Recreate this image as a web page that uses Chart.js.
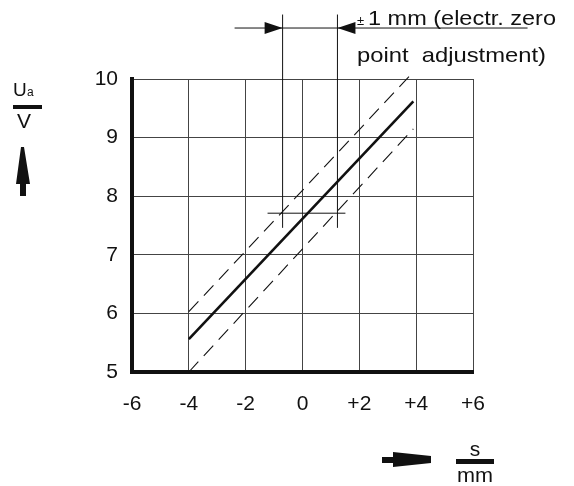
<!DOCTYPE html>
<html>
<head>
<meta charset="utf-8">
<script src="https://cdn.jsdelivr.net/npm/chart.js@4/dist/chart.umd.min.js"></script>
<style>
  html, body { margin: 0; padding: 0; background: #fff; }
</style>
</head>
<body>
<canvas id="myChart" width="574" height="486"></canvas>
<script>
// values (s in mm, Ua in V)
var sTicks = [-6, -4, -2, 0, 2, 4, 6];
var uaTicks = [5, 6, 7, 8, 9, 10];

var sRange = [-4, 3.9];
var uaNominal = [5.56, 9.62];
var uaUpper = [6.03, 10.12];
var uaLower = [5.0, 9.15];

var adjS = [-0.7, 1.23];          // vertical marks of the +-1 mm band
var adjUa = [7.46, 11.1];
var refS = [-1.23, 1.51];         // short horizontal reference line
var refUa = [7.71, 7.71];
var arrowS = [-2.39, 7.92];       // dimension line at the top
var arrowUa = [10.87, 10.87];

var FONT = "'Liberation Sans', Arial, sans-serif";

function pts(xs, ys) {
    var out = [];
    for (var i = 0; i < xs.length; i++) out.push({ x: xs[i], y: ys[i] });
    return out;
}

function lineSet(data, width, dash) {
    return {
        data: data,
        showLine: true,
        borderColor: "#111",
        borderWidth: width,
        borderDash: dash || [],
        pointRadius: 0,
        clip: false,
    };
}

var datasets = [
    lineSet(pts(sRange, uaNominal), 2.6),
    lineSet(pts(sRange, uaUpper), 1.1, [14, 8]),
    lineSet(pts(sRange, uaLower), 1.1, [14, 8]),
    lineSet(pts([adjS[0], adjS[0]], adjUa), 1),
    lineSet(pts([adjS[1], adjS[1]], adjUa), 1),
    lineSet(pts(refS, refUa), 1),
    lineSet(pts(arrowS, arrowUa), 1),
];

// text stretched to the width it has in the picture (left aligned)
function wideText(c, txt, x, y, width) {
    c.save();
    c.textAlign = "left";
    var w = c.measureText(txt).width;
    c.translate(x, y);
    c.scale(width / w, 1);
    c.fillText(txt, 0, 0);
    c.restore();
}

// arrowheads, unit labels and the note text
var extras = {
    id: "extras",
    afterDatasetsDraw: function (chart) {
        var c = chart.ctx;
        var xs = chart.scales.x, ys = chart.scales.y;
        var ay = ys.getPixelForValue(arrowUa[0]);
        var t1 = xs.getPixelForValue(adjS[0]);
        var t2 = xs.getPixelForValue(adjS[1]);
        c.save();
        c.fillStyle = "#111";
        // dimension arrowheads
        c.beginPath();
        c.moveTo(t1, ay); c.lineTo(t1 - 18, ay - 6); c.lineTo(t1 - 18, ay + 6); c.closePath();
        c.fill();
        c.beginPath();
        c.moveTo(t2, ay); c.lineTo(t2 + 18, ay - 6); c.lineTo(t2 + 18, ay + 6); c.closePath();
        c.fill();

        // note text
        c.textBaseline = "alphabetic";
        c.textAlign = "left";
        c.font = "13px " + FONT;
        c.fillText("±", 357, 25);
        c.font = "21px " + FONT;
        wideText(c, "1 mm (electr. zero", 368, 25, 188);
        wideText(c, "point  adjustment)", 357, 62, 189);

        // y unit: Ua / V with up arrow
        c.font = "19px " + FONT;
        c.fillText("U", 13, 96);
        c.font = "12px " + FONT;
        c.fillText("a", 27, 96);
        c.fillRect(13, 105, 29, 4);
        c.font = "21px " + FONT;
        c.textAlign = "center";
        c.fillText("V", 24, 128);
        c.beginPath();
        c.moveTo(21, 147); c.lineTo(24, 147);
        c.lineTo(30, 184); c.lineTo(26, 184); c.lineTo(26, 196);
        c.lineTo(20, 196); c.lineTo(20, 184); c.lineTo(16, 184);
        c.closePath();
        c.fill();

        // x unit: s / mm with right arrow
        c.fillText("s", 475, 456);
        c.fillRect(456, 459, 38, 5);
        wideText(c, "mm", 457, 482, 36);
        c.beginPath();
        c.moveTo(382, 457); c.lineTo(393, 457); c.lineTo(393, 452);
        c.lineTo(431, 456); c.lineTo(431, 463); c.lineTo(393, 467);
        c.lineTo(393, 463); c.lineTo(382, 463);
        c.closePath();
        c.fill();
        c.restore();
    },
};

var canvas = document.getElementById("myChart");
new Chart(canvas.getContext("2d"), {
    type: "scatter",
    data: { datasets: datasets },
    options: {
        responsive: false,
        animation: false,
        events: [],
        layout: { padding: { left: 0, top: 79, right: 101, bottom: 0 } },
        plugins: { legend: { display: false }, tooltip: { enabled: false } },
        scales: {
            x: {
                type: "linear",
                min: sTicks[0],
                max: sTicks[sTicks.length - 1],
                afterBuildTicks: function (s) { s.ticks = sTicks.map(function (v) { return { value: v }; }); },
                afterFit: function (s) { s.height = 114; },
                ticks: {
                    padding: 20,
                    color: "#111",
                    font: { family: FONT, size: 21 },
                    callback: function (v) { return v > 0 ? "+" + v : String(v); },
                },
                grid: { color: "#444", lineWidth: 1, drawTicks: false },
                border: { color: "#111", width: 4 },
            },
            y: {
                type: "linear",
                min: uaTicks[0],
                max: uaTicks[uaTicks.length - 1],
                afterBuildTicks: function (s) { s.ticks = uaTicks.map(function (v) { return { value: v }; }); },
                afterFit: function (s) { s.width = 132; },
                ticks: {
                    padding: 14,
                    color: "#111",
                    font: { family: FONT, size: 21 },
                },
                grid: { color: "#444", lineWidth: 1, drawTicks: false },
                border: { color: "#111", width: 4 },
            },
        },
    },
    plugins: [extras],
});
</script>
</body>
</html>
